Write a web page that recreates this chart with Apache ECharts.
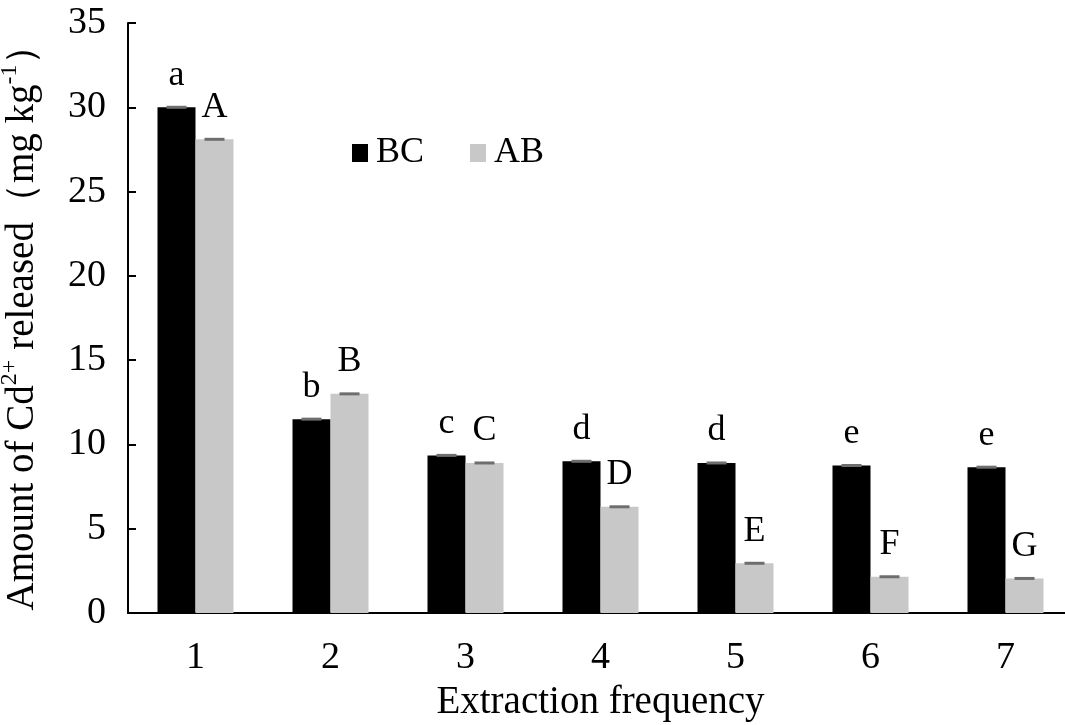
<!DOCTYPE html>
<html>
<head>
<meta charset="utf-8">
<script src="https://cdn.jsdelivr.net/npm/echarts@6/dist/echarts.min.js"></script>
<style>
  html, body { margin: 0; padding: 0; background: #fff; }
  #chart { width: 1065px; height: 725px; }
</style>
</head>
<body>
<div id="chart"></div>
<script>
const categories = ['1', '2', '3', '4', '5', '6', '7']
const bcValues = [30.0, 11.5, 9.35, 9.0, 8.9, 8.75, 8.65]
const abValues = [28.1, 13.0, 8.9, 6.3, 2.95, 2.15, 2.05]
const bcErrors = [0.08, 0.08, 0.08, 0.08, 0.08, 0.08, 0.08]
const abErrors = [0.08, 0.08, 0.08, 0.08, 0.08, 0.08, 0.08]
const bcLetters = ['a', 'b', 'c', 'd', 'd', 'e', 'e']
const abLetters = ['A', 'B', 'C', 'D', 'E', 'F', 'G']

const serif = 'Liberation Serif'
const barWidth = 38

// error caps drawn as a small gray rect centred on each bar top
function errorSeries(values, errors, side) {
  return {
    type: 'custom',
    silent: true,
    z: 5,
    data: values.map((v, i) => [i, v, errors[i]]),
    renderItem(params, api) {
      const i = api.value(0)
      const hi = api.coord([i, api.value(1) + api.value(2)])
      const lo = api.coord([i, api.value(1) - api.value(2)])
      const cx = hi[0] + side * barWidth / 2
      const h = Math.max(3, lo[1] - hi[1])
      return {
        type: 'rect',
        shape: { x: cx - 10, y: (hi[1] + lo[1]) / 2 - h / 2, width: 20, height: h },
        style: { fill: '#6e6e6e' },
      }
    },
  }
}

function letterLabel(letters) {
  return {
    show: true,
    position: 'top',
    distance: 14,
    formatter: (p) => letters[p.dataIndex],
    fontFamily: serif,
    fontSize: 36,
    color: '#000',
  }
}

const chart = echarts.init(document.getElementById('chart'))
chart.setOption({
  animation: false,
  textStyle: { fontFamily: serif },
  grid: { left: 128, top: 23, width: 945, bottom: 112, outerBoundsMode: 'none', containLabel: false },
  legend: {
    left: 347,
    top: 130,
    icon: 'rect',
    itemWidth: 16,
    itemHeight: 18,
    itemGap: 46,
    textStyle: { fontFamily: serif, fontSize: 36, color: '#000', padding: [0, 0, 0, 3] },
    data: ['BC', 'AB'],
  },
  xAxis: {
    type: 'category',
    data: categories,
    name: 'Extraction frequency',
    nameLocation: 'middle',
    nameGap: 70,
    nameTextStyle: { fontFamily: serif, fontSize: 39, color: '#000' },
    axisLine: { lineStyle: { color: '#000', width: 2 } },
    axisTick: { inside: true, length: 10, lineStyle: { color: '#000', width: 2 } },
    axisLabel: { fontFamily: serif, fontSize: 38, color: '#000', margin: 26 },
  },
  yAxis: {
    type: 'value',
    min: 0,
    max: 35,
    interval: 5,
    name: '{n|Amount of Cd}{s|2+}{n| released（mg kg}{s|-1}{n|）}',
    nameLocation: 'middle',
    nameGap: 86,
    nameTextStyle: {
      rich: {
        n: { fontFamily: serif, fontSize: 39, color: '#000', lineHeight: 44, verticalAlign: 'bottom' },
        s: { fontFamily: serif, fontSize: 24, color: '#000', lineHeight: 44, verticalAlign: 'top' },
      },
    },
    axisLine: { show: true, lineStyle: { color: '#000', width: 2 } },
    axisTick: { show: true, inside: true, length: 8, lineStyle: { color: '#000', width: 2 } },
    axisLabel: { fontFamily: serif, fontSize: 38, color: '#000', margin: 22 },
    splitLine: { show: false },
  },
  series: [
    {
      name: 'BC',
      type: 'bar',
      data: bcValues,
      barWidth,
      barGap: '0%',
      itemStyle: { color: '#000' },
      label: letterLabel(bcLetters),
    },
    {
      name: 'AB',
      type: 'bar',
      data: abValues,
      barWidth,
      itemStyle: { color: '#c8c8c8' },
      label: letterLabel(abLetters),
    },
    errorSeries(bcValues, bcErrors, -1),
    errorSeries(abValues, abErrors, 1),
  ],
})
</script>
</body>
</html>
